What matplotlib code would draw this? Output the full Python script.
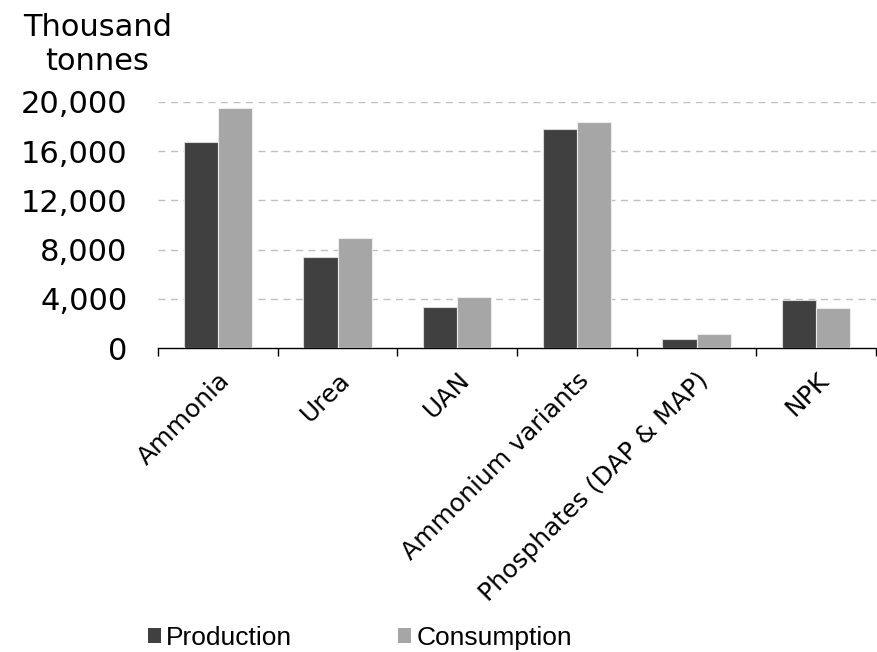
import matplotlib
matplotlib.use("Agg")
import matplotlib.pyplot as plt
from matplotlib import font_manager
from matplotlib.patches import Patch
import numpy as np

# Fertiliser production vs consumption (thousand tonnes)
categorias = ['Ammonia', 'Urea', 'UAN', 'Ammonium variants',
              'Phosphates (DAP & MAP)', 'NPK']
producao = [16700, 7380, 3350, 17800, 730, 3890]
consumo = [19500, 8950, 4190, 18350, 1160, 3300]
yticks = [0, 4000, 8000, 12000, 16000, 20000]

cor_prod = '#404040'
cor_cons = '#a6a6a6'

plt.rcParams['font.family'] = ['DejaVu Sans']

fig = plt.figure(figsize=(8.78, 6.52), dpi=100)
ax = fig.add_axes([0.18, 0.4658, 0.8178, 0.3782])

x = np.arange(len(categorias))
w = 0.2857
ax.bar(x - w / 2, producao, w, color=cor_prod, edgecolor='#d9d9d9', linewidth=0.8, zorder=3)
ax.bar(x + w / 2, consumo, w, color=cor_cons, edgecolor='#ececec', linewidth=0.8, zorder=3)

ax.set_xlim(-0.5, len(categorias) - 0.5)
ax.set_ylim(0, 20000)
ax.set_yticks(yticks)
ax.set_yticklabels([f'{v:,}' for v in yticks], fontsize=22)
ax.tick_params(axis='y', length=0, pad=22)

# ticks nas fronteiras das categorias
ax.set_xticks(np.arange(-0.5, len(categorias), 1.0))
ax.set_xticklabels([])
ax.tick_params(axis='x', which='major', length=6, width=1, color='black', direction='out')
ax.set_xticks(x, minor=True)
ax.set_xticklabels(categorias, minor=True, rotation=45, ha='right',
                   rotation_mode='anchor', fontsize=18)
ax.tick_params(axis='x', which='minor', length=0, pad=14)

for v in yticks[1:]:
    ax.axhline(v, color='#c0c0c0', linestyle=(0, (5, 4)), linewidth=1, zorder=1)

for s in ['top', 'right', 'left']:
    ax.spines[s].set_visible(False)
ax.spines['bottom'].set_color('black')
ax.spines['bottom'].set_linewidth(1)

fig.text(0.111, 0.932, 'Thousand\ntonnes', ha='center', va='center',
         fontsize=22, linespacing=1.2)

# legenda: fonte estreita se existir
try:
    font_manager.findfont('Liberation Sans Narrow', fallback_to_default=False)
    leg_font, leg_size = 'Liberation Sans Narrow', 22
except Exception:
    leg_font, leg_size = 'Liberation Sans', 19
size_px = leg_size * 100 / 72

handles = [Patch(facecolor=cor_prod, edgecolor='none', label='Production'),
           Patch(facecolor=cor_cons, edgecolor='none', label='Consumption')]
fig.legend(handles=handles, loc='center', bbox_to_anchor=(0.41, 0.022), ncol=2,
           frameon=False, handlelength=13 / size_px, handleheight=13 / size_px,
           handletextpad=5 / size_px, columnspacing=106 / size_px,
           borderpad=0, prop={'family': leg_font, 'size': leg_size})

plt.savefig('out.png', dpi=100)
